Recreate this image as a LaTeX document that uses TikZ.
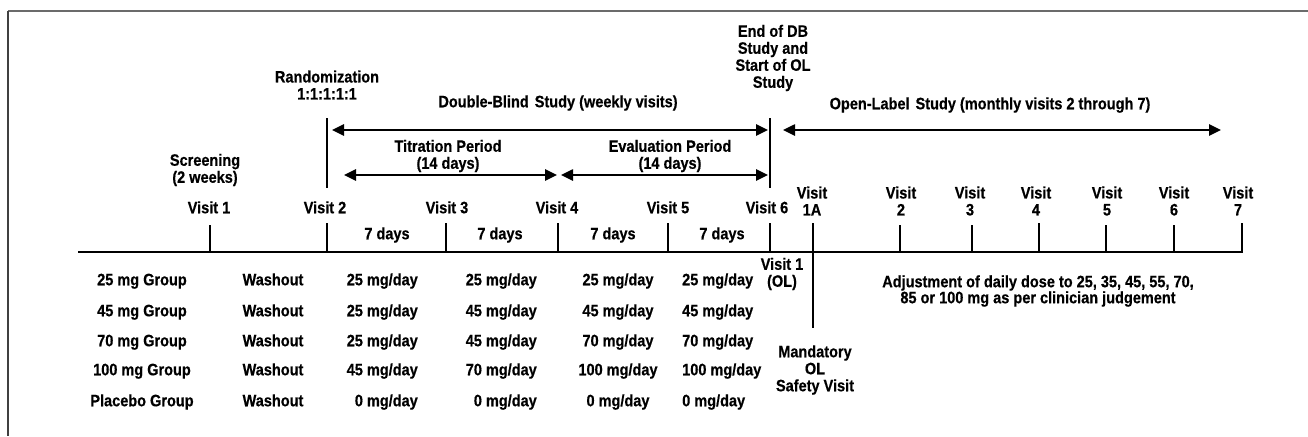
\documentclass[tikz,border=0pt]{standalone}
\usepackage{fontspec}
\setmainfont{Liberation Sans}[FakeStretch=0.88, BoldFeatures={FakeBold=0.5}]
\usetikzlibrary{arrows.meta}
\begin{document}
\begin{tikzpicture}[x=1pt,y=-1pt,
  txt/.style={font=\bfseries\fontsize{16.5}{17}\selectfont, inner sep=0pt, align=center, text=black},
  one/.style={txt, text height=12pt, text depth=3.5pt},
  axis/.style={line width=2pt, black},
  tick/.style={line width=2pt, black},
  span/.style={line width=2.5pt, black, {Triangle[length=12pt,width=11pt]}-{Triangle[length=12pt,width=11pt]}},
]
\useasboundingbox (0,0) rectangle (1308,436);
% frame
\draw[line width=2pt, black!58] (8,11) -- (1308,11);
\draw[line width=1.5pt, black!75] (8,11) -- (8,436);

% timeline coordinates
\coordinate (tl0) at (78,252);
\coordinate (tl1) at (1243,252);
\foreach \n/\x/\t in {v1/210/225, v2/327/223, v3/446/223, v4/558/223, v5/668/223, v6/770/223,
  w2/900/225, w3/972/225, w4/1039/223, w5/1106/225, w6/1174/225, w7/1242/223}{
  \coordinate (\n top) at (\x,\t);
  \coordinate (\n) at (\x,252);
}
\coordinate (v1atop) at (813,223);
\coordinate (v1abot) at (813,328);
\draw[axis] (tl0) -- (tl1);
\foreach \n in {v1,v2,v3,v4,v5,v6,w2,w3,w4,w5,w6,w7}{
  \draw[tick] (\n top) -- (\n);
}
\draw[tick] (v1atop) -- (v1abot);

% vertical markers above
\coordinate (randtop) at (327,118);
\coordinate (randbot) at (327,188);
\coordinate (dbtop) at (770,118);
\coordinate (dbbot) at (770,188);
\draw[tick] (randtop) -- (randbot);
\draw[tick] (dbtop) -- (dbbot);

% arrows
\coordinate (dbL) at (332,130);
\coordinate (dbR) at (768,130);
\coordinate (olL) at (783,130);
\coordinate (olR) at (1221,130);
\coordinate (tiL) at (344,175);
\coordinate (tiR) at (557,175);
\coordinate (evL) at (561,175);
\coordinate (evR) at (768,175);
\draw[span] (dbL) -- (dbR);
\draw[span] (olL) -- (olR);
\draw[span] (tiL) -- (tiR);
\draw[span] (evL) -- (evR);

% top labels
\node[txt] (rand) at (327,85) {Randomization\\1:1:1:1:1};
\node[one] (dbl) at (558,103) {Double-Blind\kern2pt\ Study (weekly visits)};
\node[txt] (enddb) at (773,58) {End of DB\\Study and\\Start of OL\\Study};
\node[one] (oll) at (990,105) {Open-Label\kern2pt\ Study (monthly visits 2 through 7)};
\node[txt] (titr) at (448,156) {Titration Period\\(14 days)};
\node[txt] (eval) at (670,156) {Evaluation Period\\(14 days)};
\node[txt] (scr) at (205,170) {Screening\\(2 weeks)};

% visit labels
\node[one] (lv1) at (209,209) {Visit 1};
\node[one] (lv2) at (325,209) {Visit 2};
\node[one] (lv3) at (447,209) {Visit 3};
\node[one] (lv4) at (557,209) {Visit 4};
\node[one] (lv5) at (668,209) {Visit 5};
\node[one] (lv6) at (767,209) {Visit 6};
\node[txt] (lv1a) at (812,201) {Visit\\1A};
\node[txt] (lw2) at (901,201) {Visit\\2};
\node[txt] (lw3) at (970,201) {Visit\\3};
\node[txt] (lw4) at (1036,201) {Visit\\4};
\node[txt] (lw5) at (1107,201) {Visit\\5};
\node[txt] (lw6) at (1174,201) {Visit\\6};
\node[txt] (lw7) at (1238,201) {Visit\\7};

% 7 days
\node[one] (d1) at (387,235) {7 days};
\node[one] (d2) at (500,235) {7 days};
\node[one] (d3) at (613,235) {7 days};
\node[one] (d4) at (722,235) {7 days};

% group table
\foreach \y/\g/\a/\b/\c/\d in {
  281/25 mg Group/25/25/25/25,
  312/45 mg Group/25/45/45/45,
  342/70 mg Group/25/45/70/70,
  371/100 mg Group/45/70/100/100,
  402/Placebo Group/0/0/0/0}{
  \node[one] at (142,\y) {\g};
  \node[one] at (273,\y) {Washout};
  \node[one, anchor=east] at (418,\y) {\a\ mg/day};
  \node[one, anchor=east] at (537,\y) {\b\ mg/day};
  \node[one] at (618,\y) {\c\ mg/day};
  \node[one, anchor=west] at (682,\y) {\d\ mg/day};
}

\node[txt] (v1ol) at (782,274) {Visit 1\\(OL)};
\node[txt] (mand) at (815,370) {Mandatory\\OL\\Safety Visit};
\node[txt, font=\bfseries\fontsize{16.5}{16}\selectfont] (adj) at (1038,291) {Adjustment of daily dose to 25, 35, 45, 55, 70,\\85 or 100 mg as per clinician judgement};
\end{tikzpicture}
\end{document}
